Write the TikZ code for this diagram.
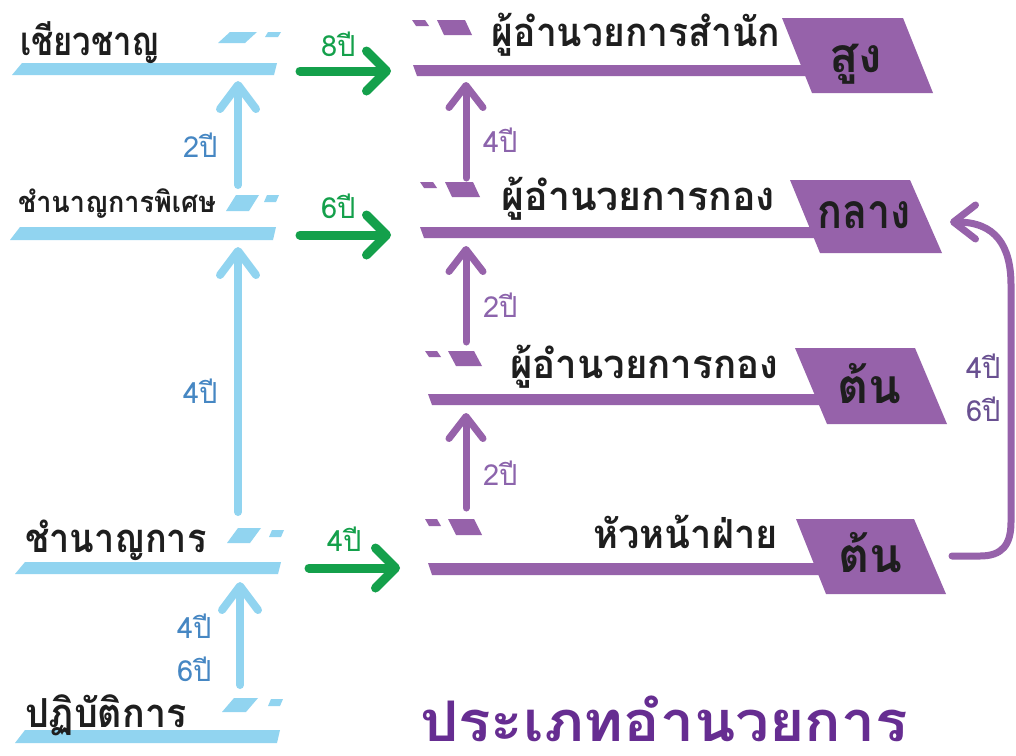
\documentclass[tikz,border=0pt]{standalone}
\usepackage{fontspec}
\newfontfamily\thai[Script=Thai]{Loma}
\usetikzlibrary{arrows.meta}
\definecolor{lblue}{RGB}{145,212,240}
\definecolor{grn}{RGB}{20,160,75}
\definecolor{purp}{RGB}{150,98,170}
\definecolor{bluetxt}{RGB}{70,135,195}
\definecolor{purptxt}{RGB}{140,100,172}
\definecolor{dpurptxt}{RGB}{105,80,145}
\definecolor{titlepurp}{RGB}{102,45,145}
\definecolor{ink}{RGB}{30,30,30}
\begin{document}
\begin{tikzpicture}[x=1pt,y=-1pt,
  every node/.style={inner sep=0pt, outer sep=0pt},
  biglbl/.style={font=\thai\bfseries\fontsize{40}{40}\selectfont, text=ink},
  smalllbl/.style={font=\thai\bfseries\fontsize{29}{29}\selectfont, text=ink},
  taglbl/.style={font=\thai\bfseries\fontsize{48}{48}\selectfont, text=ink},
  yrs/.style={font=\thai\fontsize{29}{29}\selectfont},
  bluearr/.style={draw=lblue, line width=8pt, line cap=round, -{Straight Barb[length=24pt 0, width=36pt 0, round]}},
  purparr/.style={draw=purp, line width=7pt, line cap=round, -{Straight Barb[length=22pt 0, width=34pt 0, round]}},
  grnarr/.style={draw=grn, line width=9pt, line cap=round, -{Straight Barb[length=20pt 0, width=40pt 0, round]}}
]
\useasboundingbox (0,0) rectangle (1016,755);
\fill[white] (0,0) rectangle (1016,755);

% ---------- left column (blue) ----------
\fill[lblue] (22,63) -- (277,63) -- (274,75) -- (12,75) -- cycle;
\fill[lblue] (20,227) -- (276,227) -- (273,240) -- (10,240) -- cycle;
\fill[lblue] (25,562) -- (281,562) -- (278,574) -- (15,574) -- cycle;
\fill[lblue] (25,730) -- (280,730) -- (277,743) -- (15,743) -- cycle;

\fill[lblue] (230,32) -- (257,32) -- (245,43) -- (218,43) -- cycle;
\fill[lblue] (268,32) -- (281,32) -- (278,37) -- (265,37) -- cycle;
\fill[lblue] (236,195) -- (259,195) -- (249,211) -- (226,211) -- cycle;
\fill[lblue] (267,195) -- (279,195) -- (276,202) -- (264,202) -- cycle;
\fill[lblue] (238,528) -- (261,528) -- (250,543) -- (227,543) -- cycle;
\fill[lblue] (272,530) -- (284,530) -- (281,537) -- (269,537) -- cycle;
\fill[lblue] (234,698) -- (258,698) -- (246,712) -- (222,712) -- cycle;
\fill[lblue] (271,699) -- (283,699) -- (280,706) -- (268,706) -- cycle;

\node[biglbl, anchor=base west] (expert) at (20,55) {\scalebox{0.82}[1]{เชียวชาญ}};
\node[smalllbl, anchor=base west] (senior) at (18,212) {\scalebox{0.93}[1]{ชำนาญการพิเศษ}};
\node[biglbl, anchor=base west] (prof) at (25,552) {\scalebox{0.9}[1]{ชำนาญการ}};
\node[biglbl, anchor=base west] (oper) at (25,727) {\scalebox{0.94}[1]{ปฏิบัติการ}};

\coordinate (b1s) at (238,185); \coordinate (b1e) at (238,81);
\coordinate (b2s) at (238,512); \coordinate (b2e) at (238,247);
\coordinate (b3s) at (240,685); \coordinate (b3e) at (240,582);
\draw[bluearr] (b1s) -- (b1e);
\draw[bluearr] (b2s) -- (b2e);
\draw[bluearr] (b3s) -- (b3e);
\node[yrs, text=bluetxt, anchor=base west] (y1) at (183,157) {2ปี};
\node[yrs, text=bluetxt, anchor=base west] (y2) at (183,403) {4ปี};
\node[yrs, text=bluetxt, anchor=base west] (y3) at (177,638) {4ปี};
\node[yrs, text=bluetxt, anchor=base west] (y4) at (177,681) {6ปี};

% ---------- green arrows ----------
\coordinate (g1s) at (300,71); \coordinate (g1e) at (391,71);
\coordinate (g2s) at (300,235); \coordinate (g2e) at (391,235);
\coordinate (g3s) at (309,568); \coordinate (g3e) at (400,568);
\draw[grnarr] (g1s) -- (g1e);
\draw[grnarr] (g2s) -- (g2e);
\draw[grnarr] (g3s) -- (g3e);
\node[yrs, text=grn, anchor=base west] (gy1) at (321,56) {8ปี};
\node[yrs, text=grn, anchor=base west] (gy2) at (321,218) {6ปี};
\node[yrs, text=grn, anchor=base west] (gy3) at (327,551) {4ปี};

% ---------- right column (purple) ----------
\fill[purp] (413,65) -- (830,65) -- (830,76) -- (417,76) -- cycle;
\fill[purp] (420,227) -- (840,227) -- (840,238) -- (424,238) -- cycle;
\fill[purp] (428,394) -- (845,394) -- (845,405) -- (432,405) -- cycle;
\fill[purp] (428,563) -- (845,563) -- (845,575) -- (432,575) -- cycle;

\fill[purp] (782,18) -- (903,18) -- (933,93) -- (812,93) -- cycle;
\fill[purp] (790,180) -- (910,180) -- (942,253) -- (820,253) -- cycle;
\fill[purp] (795,348) -- (915,348) -- (947,424) -- (827,424) -- cycle;
\fill[purp] (796,519) -- (914,519) -- (946,594) -- (826,594) -- cycle;

\fill[purp] (412,20) -- (425,20) -- (429,26) -- (416,26) -- cycle;
\fill[purp] (437,20) -- (465,20) -- (472,35) -- (444,35) -- cycle;
\fill[purp] (420,182) -- (433,182) -- (437,188) -- (424,188) -- cycle;
\fill[purp] (445,182) -- (473,182) -- (480,197) -- (452,197) -- cycle;
\fill[purp] (425,351) -- (437,351) -- (441,357) -- (429,357) -- cycle;
\fill[purp] (448,351) -- (474,351) -- (482,366) -- (456,366) -- cycle;
\fill[purp] (425,519) -- (437,519) -- (441,526) -- (429,526) -- cycle;
\fill[purp] (448,519) -- (474,519) -- (482,535) -- (456,535) -- cycle;

\node[biglbl, anchor=base east] (dirB) at (780,46) {\scalebox{0.93}[1]{ผู้อำนวยการสำนัก}};
\node[biglbl, anchor=base east] (dirD2) at (775,210) {\scalebox{0.98}[1]{ผู้อำนวยการกอง}};
\node[biglbl, anchor=base east] (dirD1) at (778,378) {\scalebox{0.96}[1]{ผู้อำนวยการกอง}};
\node[biglbl, anchor=base east] (head) at (778,548) {\scalebox{0.95}[1]{หัวหน้าฝ่าย}};

\node[taglbl, anchor=base] (t1) at (856,72) {สูง};
\node[taglbl, anchor=base] (t2) at (864,228) {\scalebox{0.86}[1]{กลาง}};
\node[taglbl, anchor=base] (t3) at (869,403) {ต้น};
\node[taglbl, anchor=base] (t4) at (870,572) {ต้น};

\coordinate (p1s) at (466,178); \coordinate (p1e) at (466,82);
\coordinate (p2s) at (466,342); \coordinate (p2e) at (466,246);
\coordinate (p3s) at (466,508); \coordinate (p3e) at (466,413);
\draw[purparr] (p1s) -- (p1e);
\draw[purparr] (p2s) -- (p2e);
\draw[purparr] (p3s) -- (p3e);
\node[yrs, text=purptxt, anchor=base west] (py1) at (483,152) {4ปี};
\node[yrs, text=purptxt, anchor=base west] (py2) at (483,317) {2ปี};
\node[yrs, text=purptxt, anchor=base west] (py3) at (483,485) {2ปี};

% curved return arrow
\coordinate (cs) at (952,556);
\coordinate (ce) at (950,222);
\draw[purparr] (cs) -- (980,556) .. controls (1002,556) and (1011,545) .. (1011,522)
   -- (1011,285) .. controls (1011,245) and (995,222) .. (ce);
\node[yrs, text=dpurptxt, anchor=base west] (cy1) at (966,378) {4ปี};
\node[yrs, text=dpurptxt, anchor=base west] (cy2) at (966,421) {6ปี};

% title
\node[font=\thai\bfseries\fontsize{56}{56}\selectfont, text=titlepurp, anchor=base west] (title) at (420,741) {\scalebox{1.08}[1]{ประเภทอำนวยการ}};
\end{tikzpicture}
\end{document}
